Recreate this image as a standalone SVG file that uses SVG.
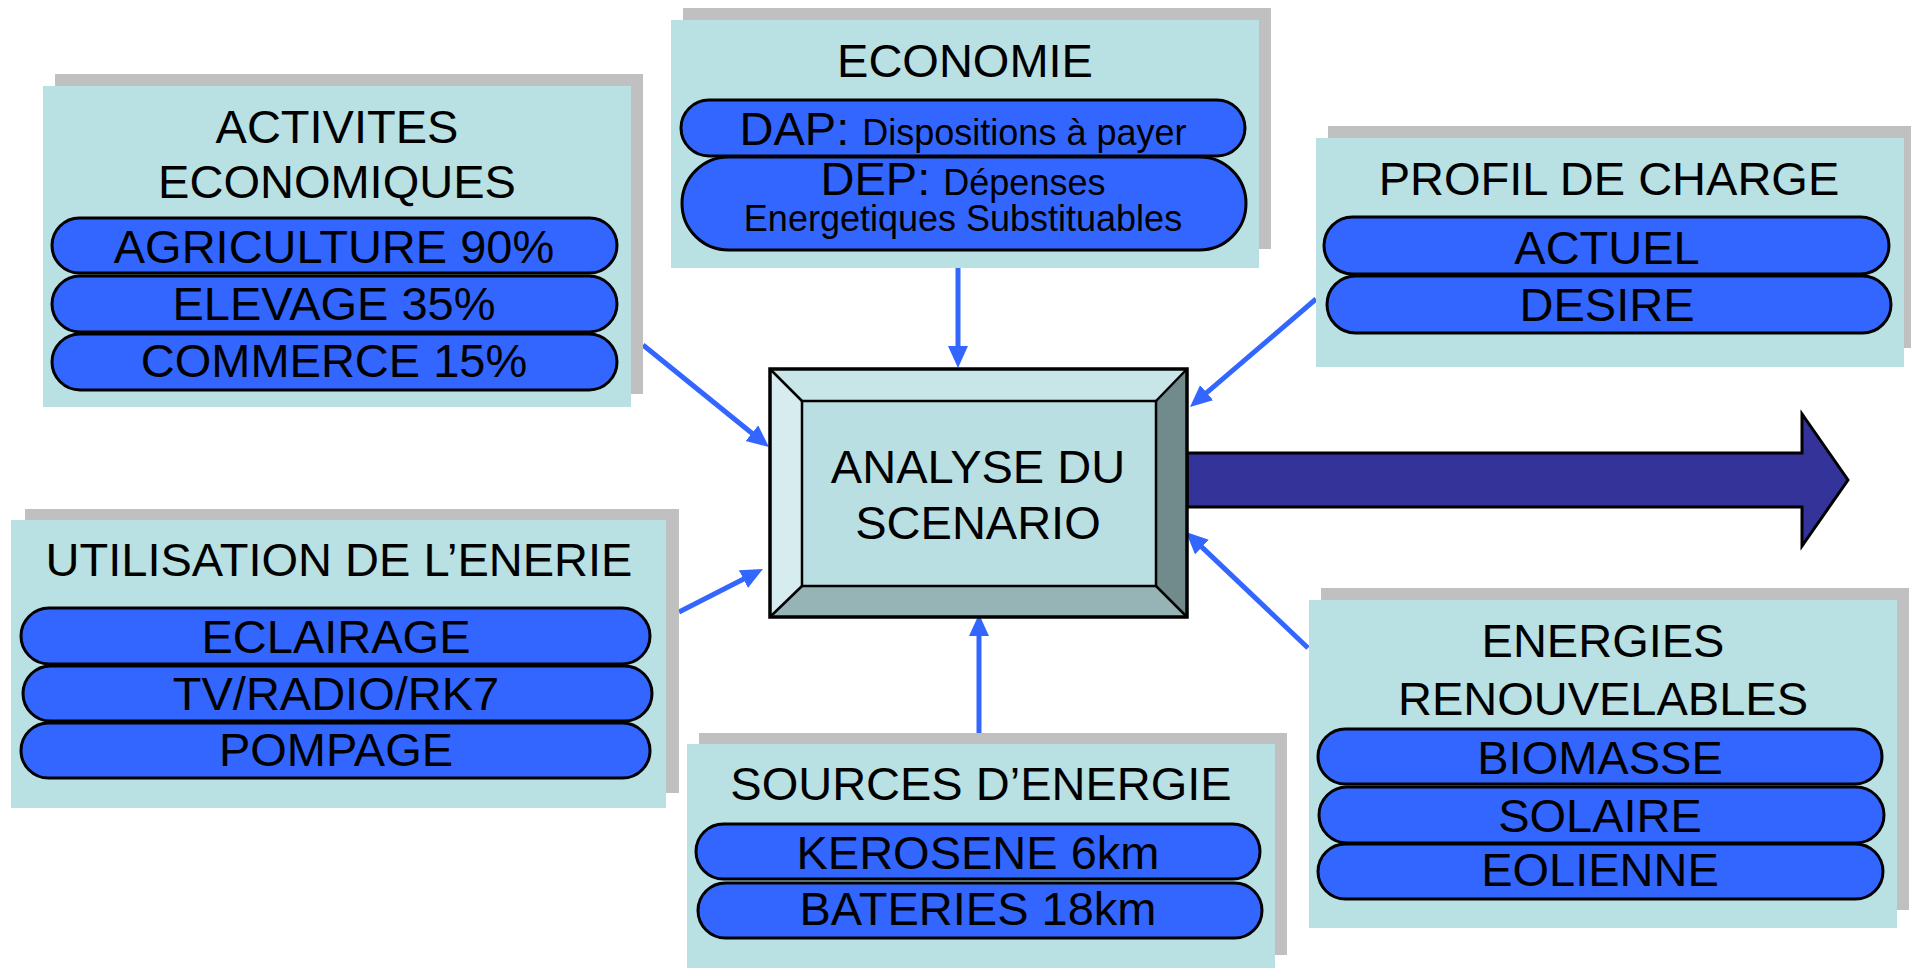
<svg xmlns="http://www.w3.org/2000/svg" width="1912" height="968" viewBox="0 0 1912 968">
<style>
.sh{fill:#C0C0C0}
.bx{fill:#B9E0E3}
.pill{fill:#3366FF;stroke:#000;stroke-width:3}
.t{font-family:"Liberation Sans",Arial,sans-serif;font-size:47px;fill:#000;text-anchor:middle}
.s{font-size:36px}
.con{stroke:#3366FF;stroke-width:5;fill:none;marker-end:url(#ah)}
</style>
<defs>
<marker id="ah" markerUnits="userSpaceOnUse" markerWidth="24" markerHeight="22" refX="8" refY="10" orient="auto">
<path d="M0,0 L22,10 L0,20 Z" fill="#3366FF"/>
</marker>
</defs>
<rect width="1912" height="968" fill="#fff"/>

<g id="connectors">
<line class="con" x1="643" y1="345" x2="758.1" y2="438.2"/>
<line class="con" x1="958" y1="268" x2="958" y2="354"/>
<line class="con" x1="1316" y1="299" x2="1200.6" y2="397.9"/>
<line class="con" x1="679" y1="612" x2="750.5" y2="575.4"/>
<line class="con" x1="979" y1="733" x2="979" y2="628"/>
<line class="con" x1="1308" y1="648" x2="1196.1" y2="541.6"/>
<path d="M1187,453 L1802,453 L1802,414 L1848,480 L1802,546 L1802,507 L1187,507 Z" fill="#333399" stroke="#000" stroke-width="3"/>
</g>

<g id="activites">
<rect class="sh" x="55" y="74" width="588" height="320"/>
<rect class="bx" x="43" y="86" width="588" height="321"/>
<text class="t" x="337" y="143">ACTIVITES</text>
<text class="t" x="337" y="198">ECONOMIQUES</text>
<rect class="pill" x="52" y="218" width="565" height="55" rx="27.5"/>
<rect class="pill" x="52" y="276" width="565" height="56" rx="28"/>
<rect class="pill" x="52" y="334" width="565" height="56" rx="28"/>
<text class="t" x="334" y="263">AGRICULTURE 90%</text>
<text class="t" x="334" y="320">ELEVAGE 35%</text>
<text class="t" x="334" y="377">COMMERCE 15%</text>
</g>

<g id="economie">
<rect class="sh" x="683" y="8" width="588" height="241"/>
<rect class="bx" x="671" y="20" width="588" height="248"/>
<text class="t" x="965" y="77">ECONOMIE</text>
<rect class="pill" x="681" y="100" width="564" height="56" rx="28"/>
<rect class="pill" x="682" y="157" width="564" height="93" rx="46.5"/>
<text class="t" x="963" y="145">DAP: <tspan class="s">Dispositions à payer</tspan></text>
<text class="t" x="963" y="195">DEP: <tspan class="s">Dépenses</tspan></text>
<text class="t s" x="963" y="231">Energetiques Substituables</text>
</g>

<g id="profil">
<rect class="sh" x="1328" y="126" width="583" height="222"/>
<rect class="bx" x="1316" y="138" width="588" height="229"/>
<text class="t" x="1609" y="195">PROFIL DE CHARGE</text>
<rect class="pill" x="1324" y="217" width="565" height="57" rx="28.5"/>
<rect class="pill" x="1327" y="276" width="564" height="57" rx="28.5"/>
<text class="t" x="1607" y="264">ACTUEL</text>
<text class="t" x="1607" y="321">DESIRE</text>
</g>

<g id="analyse">
<rect x="770" y="369" width="417" height="248" fill="#B9DFE3"/>
<polygon points="770,369 1187,369 1156,401 802,401" fill="#C8E5E8"/>
<polygon points="770,369 802,401 802,586 770,617" fill="#D6ECEF"/>
<polygon points="1187,369 1187,617 1156,586 1156,401" fill="#718A8C"/>
<polygon points="770,617 802,586 1156,586 1187,617" fill="#96B3B5"/>
<rect x="802" y="401" width="354" height="185" fill="#B9DFE3" stroke="#000" stroke-width="2.5"/>
<g stroke="#000" stroke-width="2.5">
<line x1="770" y1="369" x2="802" y2="401"/>
<line x1="1187" y1="369" x2="1156" y2="401"/>
<line x1="770" y1="617" x2="802" y2="586"/>
<line x1="1187" y1="617" x2="1156" y2="586"/>
</g>
<rect x="770" y="369" width="417" height="248" fill="none" stroke="#000" stroke-width="3.5"/>
<text class="t" x="978" y="483">ANALYSE DU</text>
<text class="t" x="978" y="539">SCENARIO</text>
</g>

<g id="utilisation">
<rect class="sh" x="25" y="509" width="654" height="284"/>
<rect class="bx" x="11" y="520" width="655" height="288"/>
<text class="t" x="339" y="576">UTILISATION DE L’ENERIE</text>
<rect class="pill" x="21" y="608" width="629" height="56" rx="28"/>
<rect class="pill" x="23" y="666" width="629" height="55" rx="27.5"/>
<rect class="pill" x="21" y="723" width="629" height="55" rx="27.5"/>
<text class="t" x="336" y="653">ECLAIRAGE</text>
<text class="t" x="336" y="710">TV/RADIO/RK7</text>
<text class="t" x="336" y="766">POMPAGE</text>
</g>

<g id="sources">
<rect class="sh" x="699" y="733" width="588" height="222"/>
<rect class="bx" x="687" y="744" width="588" height="224"/>
<text class="t" x="981" y="800">SOURCES D’ENERGIE</text>
<rect class="pill" x="696" y="824" width="564" height="55" rx="27.5"/>
<rect class="pill" x="698" y="883" width="564" height="55" rx="27.5"/>
<text class="t" x="978" y="869">KEROSENE 6km</text>
<text class="t" x="978" y="925">BATERIES 18km</text>
</g>

<g id="energies">
<rect class="sh" x="1321" y="588" width="588" height="322"/>
<rect class="bx" x="1309" y="600" width="588" height="328"/>
<text class="t" x="1603" y="657">ENERGIES</text>
<text class="t" x="1603" y="715">RENOUVELABLES</text>
<rect class="pill" x="1318" y="729" width="564" height="55" rx="27.5"/>
<rect class="pill" x="1319" y="787" width="565" height="56" rx="28"/>
<rect class="pill" x="1318" y="844" width="565" height="55" rx="27.5"/>
<text class="t" x="1600" y="774">BIOMASSE</text>
<text class="t" x="1600" y="832">SOLAIRE</text>
<text class="t" x="1600" y="886">EOLIENNE</text>
</g>
</svg>
